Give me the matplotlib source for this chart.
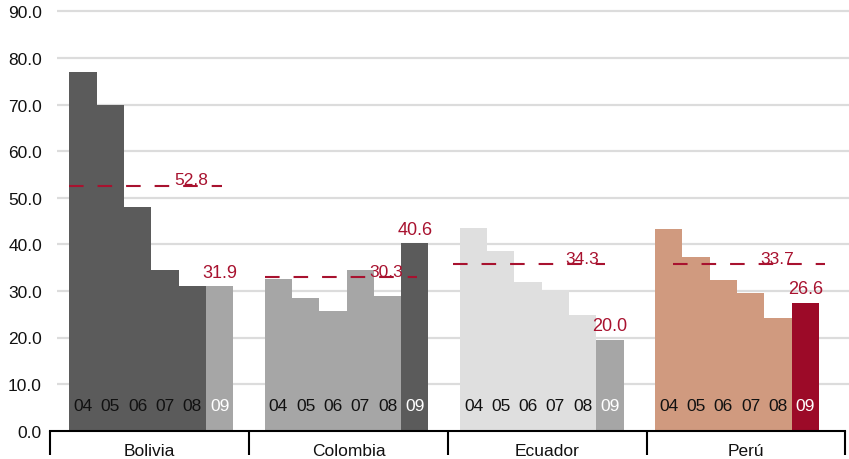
import matplotlib
matplotlib.use('Agg')
from matplotlib import pyplot as plt
import matplotlib.transforms as mtransforms
import numpy as np

plt.rcParams['font.family'] = ['Liberation Sans', 'DejaVu Sans']

# data
countries = ['Bolivia', 'Colombia', 'Ecuador', 'Perú']
years = ['04', '05', '06', '07', '08', '09']
bolivia = [76.9, 70.0, 47.9, 34.5, 31.0, 31.0]
colombia = [32.6, 28.5, 25.7, 34.4, 28.8, 40.2]
ecuador = [43.5, 38.5, 31.9, 30.3, 24.8, 19.5]
peru = [43.2, 37.2, 32.4, 29.6, 24.1, 27.5]
last_labels = ['31.9', '40.6', '20.0', '26.6']
avg_labels = ['52.8', '30.3', '34.3', '33.7']
avg_levels = [52.5, 32.9, 35.7, 35.7]   # where the dashed lines sit in the picture
yticks = [0, 10, 20, 30, 40, 50, 60, 70, 80, 90]

series = [bolivia, colombia, ecuador, peru]

# colours: (years 04-08, year 09)
dark = '#5b5b5b'
mid = '#a6a6a6'
light = '#dfdfdf'
tan = '#d09a7f'
crimson = '#9c0a28'
red = '#a8122f'
group_colors = [(dark, mid), (mid, dark), (light, mid), (tan, crimson)]

fig = plt.figure(figsize=(8.49, 4.60), dpi=100)
ax = fig.add_axes([50 / 849, 1 - 431.7 / 460, 799 / 849, 419.4 / 460])

px = 27.3  # pixels per bar
x_left = -100 / px
x_right = 699 / px
ax.set_xlim(x_left, x_right)
ax.set_ylim(0, 90)

# gridlines (start a bit right of the axis line)
ax.hlines(yticks[1:], x_left + 7 / px, x_right, color='#dcdcdc', linewidth=1.6, zorder=0, clip_on=False)

group_gap = 7.15
line_shift = [0.0, 0.0, -0.25, 0.65]  # the dashed lines are not quite aligned in the original
for i, vals in enumerate(series):
    center = i * group_gap + 0.05
    xs = center + np.arange(6) - 2.5
    cols = [group_colors[i][0]] * 5 + [group_colors[i][1]]
    ax.bar(xs, vals, width=1.0, color=cols, edgecolor='none', zorder=2)

    # year labels inside bars
    for j, yr in enumerate(years):
        c = '#111111' if j < 5 else 'white'
        ax.text(xs[j], 5.5, yr, ha='center', va='center', fontsize=12.5, color=c, zorder=4)

    # value of the last year
    ax.text(xs[5], vals[5] + 1.2, last_labels[i], ha='center', va='bottom',
            fontsize=13, color=red, zorder=4)

    # dashed average line
    x0 = center - 3.0
    xl = x0 + line_shift[i]
    ax.plot([xl, xl + 5.57], [avg_levels[i], avg_levels[i]], color=red,
            linewidth=1.5, dashes=(7, 6.7), zorder=3)
    ax.text(x0 + 4.47, avg_levels[i] - 0.3, avg_labels[i], ha='center', va='bottom',
            fontsize=12.5, color=red, zorder=4)

# separators as x ticks
seps = np.arange(5) * 7.28 - 3.65
ax.set_xticks(seps)
ax.set_xticklabels([''] * 5)
ax.tick_params(axis='x', direction='out', length=17, width=1.5, color='black')

trans = mtransforms.blended_transform_factory(ax.transData, ax.transAxes)
for k, name in enumerate(countries):
    ax.text((seps[k] + seps[k + 1]) / 2, -0.048, name, transform=trans,
            ha='center', va='center', fontsize=12.5, color='#111111')

ax.set_yticks(yticks)
ax.set_yticklabels(['%.1f' % v for v in yticks])
ax.tick_params(axis='y', length=0, pad=5.8, labelsize=12.5, labelcolor='#111111')

for s in ['top', 'right', 'left']:
    ax.spines[s].set_visible(False)
ax.spines['bottom'].set_linewidth(1.5)
ax.spines['bottom'].set_bounds(seps[0], seps[-1])
ax.spines['bottom'].set_zorder(5)

plt.savefig('out.png', dpi=100)
